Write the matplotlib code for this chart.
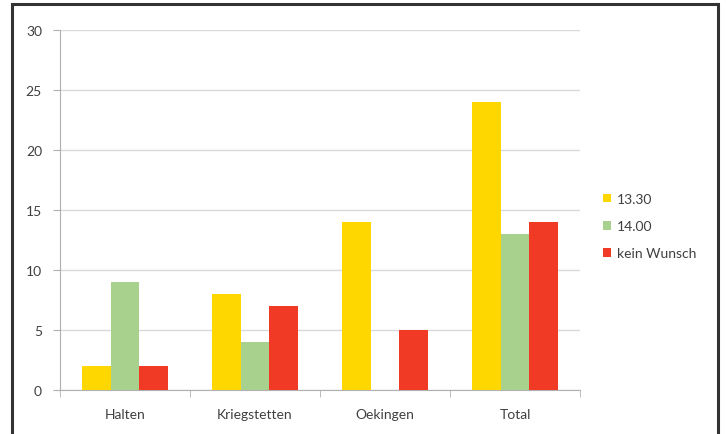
import numpy as np
import matplotlib.pyplot as plt
from matplotlib.patches import Rectangle

# data
orte = ["Halten", "Kriegstetten", "Oekingen", "Total"]
serien = ["13.30", "14.00", "kein Wunsch"]
werte_1330 = [2, 8, 14, 24]
werte_1400 = [9, 4, 0, 13]
werte_kein = [2, 7, 5, 14]
farben = ["#FFD700", "#A9D18E", "#F03A26"]

plt.rcParams['font.family'] = ['Lato', 'DejaVu Sans']

fig = plt.figure(figsize=(7.26, 4.35), dpi=100)
ax = fig.add_axes([60 / 726, 1 - 391 / 435, 520 / 726, 360 / 435])

x = np.arange(len(orte))
w = 0.223
for i, (vals, col, name) in enumerate(zip([werte_1330, werte_1400, werte_kein], farben, serien)):
    ax.bar(x + (i - 1) * w, vals, width=w, color=col, label=name, zorder=3)

ax.set_xlim(-0.5, len(orte) - 0.5)
ax.set_ylim(0, 30)
ax.set_yticks(range(0, 31, 5))
ax.grid(axis="y", color="#D9D9D9", linewidth=1, zorder=0)
ax.set_axisbelow(True)

ax.set_xticks(x)
ax.set_xticklabels(orte)
ax.set_xticks(np.arange(-0.5, len(orte)), minor=True)
ax.tick_params(axis="x", which="major", length=0, pad=13, labelsize=10, labelcolor="#404040")
ax.tick_params(axis="x", which="minor", length=5, color="#B0B0B0", direction="out")
ax.tick_params(axis="y", length=5, color="#B0B0B0", labelsize=10, labelcolor="#404040", pad=8)

for s in ["top", "right"]:
    ax.spines[s].set_visible(False)
ax.spines["left"].set_color("#B0B0B0")
ax.spines["bottom"].set_color("#B0B0B0")

ax.legend(loc="center left", bbox_to_anchor=(1.02, 0.455), frameon=False,
          handlelength=0.6, handleheight=0.6, handletextpad=0.4,
          labelspacing=1.1, fontsize=10, labelcolor="#404040")

# outer frame
fig.patches.append(Rectangle((12 / 726, -0.05), 706 / 726, 1.05 - 5 / 435,
                             transform=fig.transFigure, fill=False,
                             edgecolor="#333333", linewidth=2.2))

fig.savefig("out.png", dpi=100)
